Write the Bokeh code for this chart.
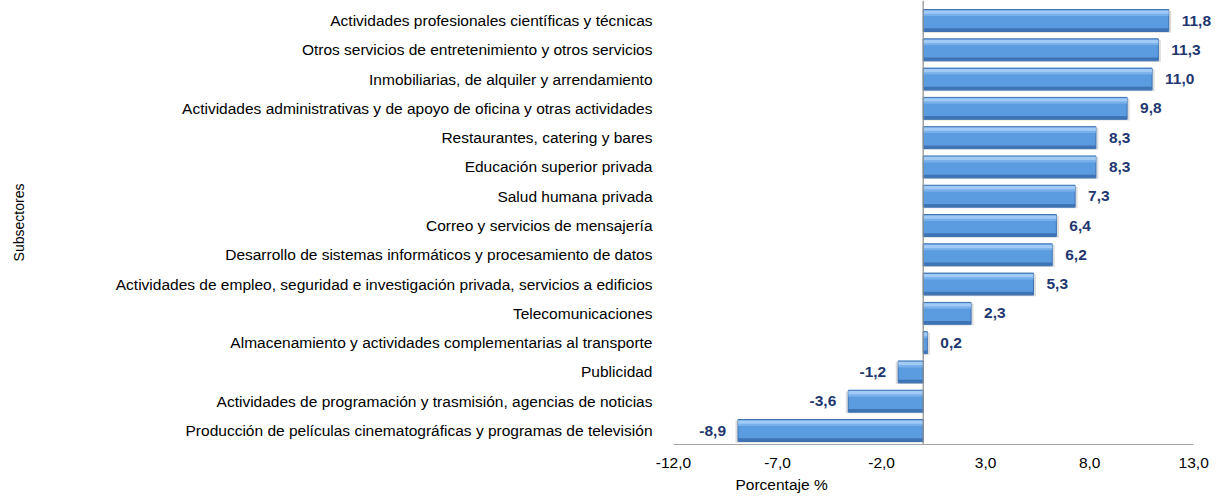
from bokeh.plotting import figure
from bokeh.models import Range1d, FixedTicker, Span, Title, ColumnDataSource
from bokeh.core.properties import value
from bokeh.embed import file_html
from bokeh.resources import INLINE

# Data (bottom to top)
subsectores = [
    "Producción de películas cinematográficas y programas de televisión",
    "Actividades de programación y trasmisión, agencias de noticias",
    "Publicidad",
    "Almacenamiento y actividades complementarias al transporte",
    "Telecomunicaciones",
    "Actividades de empleo, seguridad e investigación privada, servicios a edificios",
    "Desarrollo de sistemas informáticos y procesamiento de datos",
    "Correo y servicios de mensajería",
    "Salud humana privada",
    "Educación superior privada",
    "Restaurantes, catering y bares",
    "Actividades administrativas y de apoyo de oficina y otras actividades",
    "Inmobiliarias, de alquiler y arrendamiento",
    "Otros servicios de entretenimiento y otros servicios",
    "Actividades profesionales científicas y técnicas",
]
variacion = [-8.9, -3.6, -1.2, 0.2, 2.3, 5.3, 6.2, 6.4, 7.3, 8.3, 8.3, 9.8, 11.0, 11.3, 11.8]
x_ticks = [-12.0, -7.0, -2.0, 3.0, 8.0, 13.0]

pos = list(range(1, len(subsectores) + 1))
labels = [f"{v:.1f}".replace(".", ",") for v in variacion]
pos_idx = [i for i, v in enumerate(variacion) if v >= 0]
neg_idx = [i for i, v in enumerate(variacion) if v < 0]

FONT = "Liberation Sans"
FS = "15.5px"
H = 0.75

p = figure(width=1214, height=496, output_backend="svg", toolbar_location=None,
           x_range=Range1d(-12, 14.0), y_range=Range1d(0.522, 15.683),
           min_border_left=673, min_border_right=0, min_border_top=0, min_border_bottom=52)
p.outline_line_color = None
p.grid.visible = False
p.background_fill_color = "white"

src = ColumnDataSource(dict(y=pos, v=variacion, lab=labels))

# shadow
p.hbar(y=[y - 0.04 for y in pos], left=0, right=[v + (0.12 if v >= 0 else -0.12) for v in variacion],
       height=H, fill_color="#9a9a9a", fill_alpha=0.35, line_color=None)
# main bar
p.hbar(y="y", left=0, right="v", height=H, source=src, fill_color="#5B9BE0", line_color="#3F74B4", line_width=1)
# top highlight
p.hbar(y=[y + H / 2 - 0.09 for y in pos], left=0, right=variacion, height=0.12,
       fill_color="#A9D0F7", fill_alpha=0.9, line_color=None)
p.hbar(y=[y + H / 2 - 0.18 for y in pos], left=0, right=variacion, height=0.08,
       fill_color="#7FB5EE", fill_alpha=0.8, line_color=None)
# bottom dark edge
p.hbar(y=[y - H / 2 + 0.06 for y in pos], left=0, right=variacion, height=0.1,
       fill_color="#3A6DAE", fill_alpha=0.85, line_color=None)

# value labels
p.text(x=[variacion[i] for i in pos_idx], y=[pos[i] for i in pos_idx], text=[labels[i] for i in pos_idx],
       x_offset=13, text_align="left", text_baseline="middle", text_font=value(FONT),
       text_font_size=FS, text_font_style="bold", text_color="#1F3770")
p.text(x=[variacion[i] for i in neg_idx], y=[pos[i] for i in neg_idx], text=[labels[i] for i in neg_idx],
       x_offset=-12, text_align="right", text_baseline="middle", text_font=value(FONT),
       text_font_size=FS, text_font_style="bold", text_color="#1F3770")

# zero line
p.add_layout(Span(location=0, dimension="height", line_color="#8c8c8c", line_width=1.2))

# x axis
xa = p.xaxis[0]
xa.ticker = FixedTicker(ticks=x_ticks)
xa.bounds = (-12, 13)
xa.major_label_overrides = {t: f"{t:.1f}".replace(".", ",") for t in x_ticks}
xa.major_tick_line_color = None
xa.minor_tick_line_color = None
xa.axis_line_color = "#a6a6a6"
xa.major_label_standoff = 7
xa.major_label_text_font = FONT
xa.major_label_text_font_size = FS
xa.major_label_text_color = "#000000"

# y axis
ya = p.yaxis[0]
ya.ticker = FixedTicker(ticks=pos)
ya.major_label_overrides = {y: s for y, s in zip(pos, subsectores)}
ya.axis_line_color = None
ya.major_tick_line_color = None
ya.minor_tick_line_color = None
ya.major_label_standoff = 15
ya.major_label_text_font = FONT
ya.major_label_text_font_size = FS
ya.major_label_text_color = "#000000"
ya.axis_label = "Subsectores"
ya.axis_label_text_font = FONT
ya.axis_label_text_font_size = "14px"
ya.axis_label_text_font_style = "normal"
ya.axis_label_text_color = "#000000"
ya.axis_label_standoff = 86

p.add_layout(Title(text="Porcentaje %", align="left", offset=62, standoff=7,
                   text_font=FONT, text_font_size=FS, text_font_style="normal",
                   text_color="#000000"), "below")

open("out.html", "w").write(file_html(p, INLINE))
